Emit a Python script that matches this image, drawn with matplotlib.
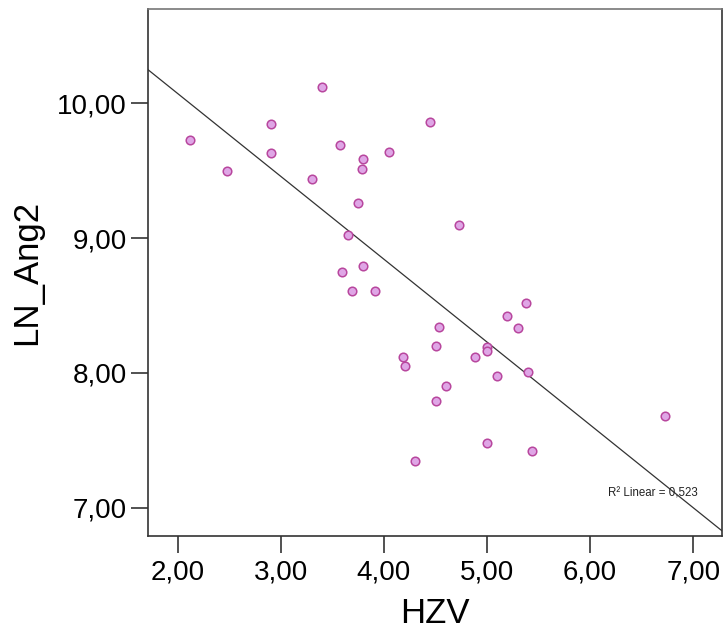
import matplotlib.pyplot as plt
import numpy as np

plt.rcParams['font.family'] = ['Liberation Sans', 'DejaVu Sans']

hzv = [2.12, 2.48, 2.90, 2.90, 3.40, 3.30, 3.57, 3.80, 3.79, 4.05, 4.45, 3.75,
       4.73, 3.65, 3.80, 3.59, 3.69, 3.91,
       5.38, 5.19, 4.53, 5.30, 4.50, 5.00, 5.00, 4.18, 4.88, 4.20, 5.40, 5.10,
       4.60, 4.50, 6.73, 5.00, 5.44, 4.30]
ln_ang2 = [9.73, 9.50, 9.85, 9.63, 10.12, 9.44, 9.69, 9.59, 9.51, 9.64, 9.86, 9.26,
           9.10, 9.02, 8.79, 8.75, 8.61, 8.61,
           8.52, 8.42, 8.34, 8.33, 8.20, 8.195, 8.16, 8.12, 8.12, 8.05, 8.01, 7.98,
           7.90, 7.79, 7.68, 7.48, 7.42, 7.35]
xticks = [2, 3, 4, 5, 6, 7]
yticks = [7, 8, 9, 10]

x = np.array(hzv)
y = np.array(ln_ang2)
slope, icpt = np.polyfit(x, y, 1)
r2 = np.corrcoef(x, y)[0, 1] ** 2

fig = plt.figure(figsize=(7.25, 6.42), dpi=100)
ax = fig.add_axes([0.204, 0.165, 0.792, 0.821])
xlim = (1.71, 7.28)
ax.set_xlim(*xlim)
ax.set_ylim(6.79, 10.70)

xl = np.array(xlim)
ax.plot(xl, icpt + slope * xl, color='#333333', lw=0.9, zorder=2)
ax.scatter(x, y, s=38, facecolor='#dfa6e6', edgecolor='#b8479e', lw=1.1, zorder=3)

ax.set_xticks(xticks)
ax.set_yticks(yticks)
ax.set_xticklabels([f"{v:.2f}".replace('.', ',') for v in xticks])
ax.set_yticklabels([f"{v:.2f}".replace('.', ',') for v in yticks])
ax.tick_params(axis='both', direction='out', length=12, width=1.2, labelsize=20,
               color='#333333', pad=3)
ax.tick_params(axis='x', pad=5)
for s in ax.spines.values():
    s.set_color('#333333')
    s.set_linewidth(1.2)
ax.spines['top'].set_color('#777777')

ax.set_xlabel('HZV', fontsize=25, labelpad=8)
ax.set_ylabel('LN_Ang2', fontsize=25, labelpad=10)

ax.text(0.958, 0.080, f"R² Linear = {r2:.3f}".replace('.', ','), transform=ax.transAxes,
        fontsize=8.3, ha='right', va='center', color='#222222')

fig.savefig('out.png', dpi=100)
